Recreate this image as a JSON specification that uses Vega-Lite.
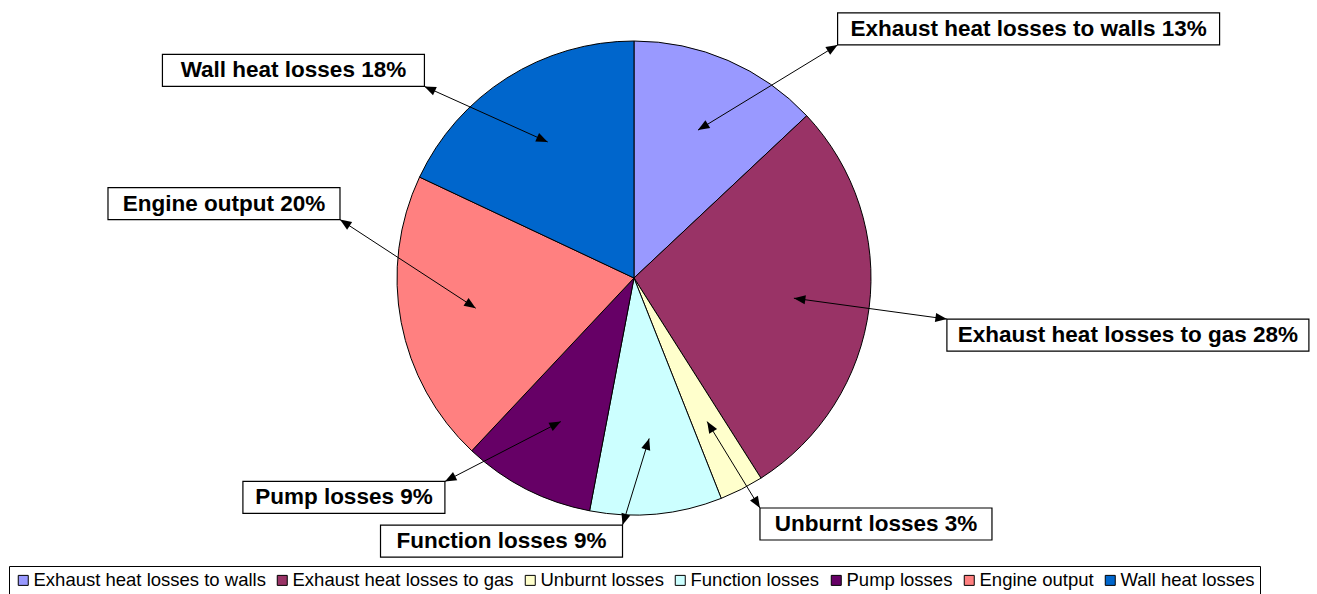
{
  "$schema": "https://vega.github.io/schema/vega-lite/v6.json",
  "width": 1317,
  "height": 594,
  "autosize": {"type": "none"},
  "padding": 0,
  "background": "white",
  "config": {
    "view": {"stroke": null},
    "font": "Liberation Sans"
  },
  "data": {
    "values": [
      {"category": "Exhaust heat losses to walls", "value": 13, "order": 1, "label": "Exhaust heat losses to walls 13%", "label_x": 1.665, "label_y": 1.051},
      {"category": "Exhaust heat losses to gas", "value": 28, "order": 2, "label": "Exhaust heat losses to gas 28%", "label_x": 2.084, "label_y": -0.241},
      {"category": "Unburnt losses", "value": 3, "order": 3, "label": "Unburnt losses 3%", "label_x": 1.021, "label_y": -1.038},
      {"category": "Function losses", "value": 9, "order": 4, "label": "Function losses 9%", "label_x": -0.559, "label_y": -1.110},
      {"category": "Pump losses", "value": 9, "order": 5, "label": "Pump losses 9%", "label_x": -1.224, "label_y": -0.926},
      {"category": "Engine output", "value": 20, "order": 6, "label": "Engine output 20%", "label_x": -1.730, "label_y": 0.314},
      {"category": "Wall heat losses", "value": 18, "order": 7, "label": "Wall heat losses 18%", "label_x": -1.437, "label_y": 0.876}
    ]
  },
  "transform": [
    {"window": [{"op": "sum", "field": "value", "as": "cum"}], "sort": [{"field": "order"}], "frame": [null, 0]},
    {"joinaggregate": [{"op": "sum", "field": "value", "as": "total"}]},
    {"calculate": "(datum.cum - datum.value / 2) / datum.total * 2 * PI", "as": "mid"},
    {"calculate": "0.68 * sin(datum.mid)", "as": "tip_x"},
    {"calculate": "0.68 * cos(datum.mid)", "as": "tip_y"},
    {"calculate": "(length(datum.label) * 10 + 62) / 474", "as": "hw"},
    {"calculate": "16 / 237", "as": "hh"},
    {"calculate": "datum.label_x - datum.hw", "as": "bx1"},
    {"calculate": "datum.label_x + datum.hw", "as": "bx2"},
    {"calculate": "datum.label_y - datum.hh", "as": "by1"},
    {"calculate": "datum.label_y + datum.hh", "as": "by2"},
    {"calculate": "datum.label_x - (datum.label_x > 0 ? 1 : -1) * datum.hw", "as": "start_x"},
    {"calculate": "datum.label_y - (datum.label_y > 0 ? 1 : -1) * datum.hh", "as": "start_y"},
    {"calculate": "atan2(datum.tip_x - datum.start_x, datum.tip_y - datum.start_y) * 180 / PI", "as": "ang_tip"},
    {"calculate": "datum.ang_tip + 180", "as": "ang_start"}
  ],
  "layer": [
    {
      "mark": {"type": "arc", "outerRadius": 237, "stroke": "black", "strokeWidth": 1},
      "encoding": {
        "x": {"datum": 0, "type": "quantitative", "scale": {"domain": [-2.6751, 2.8819], "nice": false, "zero": false}, "axis": null},
        "y": {"datum": 0, "type": "quantitative", "scale": {"domain": [-1.3333, 1.1730], "nice": false, "zero": false}, "axis": null},
        "theta": {"field": "value", "type": "quantitative", "stack": true},
        "order": {"field": "order", "type": "quantitative"},
        "color": {
          "field": "category",
          "type": "nominal",
          "sort": ["Exhaust heat losses to walls", "Exhaust heat losses to gas", "Unburnt losses", "Function losses", "Pump losses", "Engine output", "Wall heat losses"],
          "scale": {
            "domain": ["Exhaust heat losses to walls", "Exhaust heat losses to gas", "Unburnt losses", "Function losses", "Pump losses", "Engine output", "Wall heat losses"],
            "range": ["#9999FF", "#993366", "#FFFFCC", "#CCFFFF", "#660066", "#FF8080", "#0066CC"]
          },
          "legend": {
            "orient": "none",
            "legendX": 9,
            "legendY": 566,
            "direction": "horizontal",
            "columns": 7,
            "title": null,
            "symbolType": "square",
            "symbolSize": 100,
            "symbolStrokeColor": "black",
            "symbolStrokeWidth": 1,
            "symbolOpacity": 1,
            "labelFont": "Liberation Sans",
            "labelFontSize": 18.5,
            "labelColor": "black",
            "labelLimit": 400,
            "labelOffset": 1,
            "columnPadding": 7,
            "padding": 5,
            "strokeColor": "black",
            "fillColor": "white"
          }
        }
      }
    },
    {
      "mark": {"type": "rule", "color": "black", "strokeWidth": 1},
      "encoding": {
        "x": {"field": "start_x", "type": "quantitative"},
        "y": {"field": "start_y", "type": "quantitative"},
        "x2": {"field": "tip_x"},
        "y2": {"field": "tip_y"}
      }
    },
    {
      "mark": {"type": "point", "shape": "M0,0L-0.4,1L0.4,1Z", "filled": true, "color": "black", "size": 529, "opacity": 1},
      "encoding": {
        "x": {"field": "tip_x", "type": "quantitative"},
        "y": {"field": "tip_y", "type": "quantitative"},
        "angle": {"field": "ang_tip", "type": "quantitative", "scale": null}
      }
    },
    {
      "mark": {"type": "point", "shape": "M0,0L-0.4,1L0.4,1Z", "filled": true, "color": "black", "size": 529, "opacity": 1},
      "encoding": {
        "x": {"field": "start_x", "type": "quantitative"},
        "y": {"field": "start_y", "type": "quantitative"},
        "angle": {"field": "ang_start", "type": "quantitative", "scale": null}
      }
    },
    {
      "mark": {"type": "rect", "fill": "white", "stroke": "black", "strokeWidth": 1.2},
      "encoding": {
        "x": {"field": "bx1", "type": "quantitative"},
        "x2": {"field": "bx2"},
        "y": {"field": "by1", "type": "quantitative"},
        "y2": {"field": "by2"}
      }
    },
    {
      "mark": {"type": "text", "font": "Liberation Sans", "fontWeight": "bold", "fontSize": 22.5, "color": "black", "align": "center", "baseline": "middle"},
      "encoding": {
        "x": {"field": "label_x", "type": "quantitative"},
        "y": {"field": "label_y", "type": "quantitative"},
        "text": {"field": "label", "type": "nominal"}
      }
    }
  ]
}
